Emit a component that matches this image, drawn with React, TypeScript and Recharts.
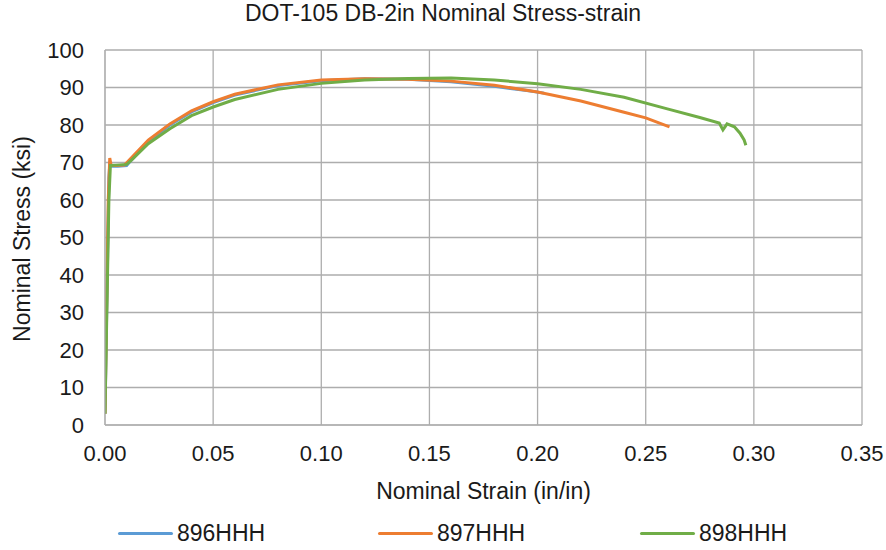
import React from 'react';
import { LineChart, Line, XAxis, YAxis, CartesianGrid } from 'recharts';

// Specimen 896HHH
const strain896 = [0, 0.0018, 0.0022, 0.003, 0.006, 0.01, 0.012, 0.02, 0.03, 0.04, 0.05, 0.06, 0.08, 0.1, 0.12, 0.14, 0.16, 0.18, 0.195, 0.203];
const stress896 = [3, 66, 69.5, 69, 69, 69.2, 70.5, 75.5, 80, 83.5, 86, 88, 90.5, 91.8, 92.3, 92.2, 91.5, 90.3, 89.2, 88.5];

// Specimen 897HHH
const strain897 = [0, 0.0015, 0.0022, 0.0028, 0.005, 0.009, 0.011, 0.02, 0.03, 0.04, 0.05, 0.06, 0.08, 0.1, 0.12, 0.14, 0.16, 0.18, 0.2, 0.22, 0.24, 0.25, 0.261];
const stress897 = [3, 60, 71.2, 69.3, 69.2, 69.3, 70.5, 76, 80.3, 83.8, 86.2, 88.2, 90.7, 92, 92.3, 92.2, 91.7, 90.6, 88.8, 86.4, 83.4, 81.9, 79.5];

// Specimen 898HHH
const strain898 = [0, 0.0018, 0.0025, 0.005, 0.01, 0.012, 0.02, 0.03, 0.04, 0.05, 0.06, 0.08, 0.1, 0.12, 0.14, 0.16, 0.18, 0.2, 0.22, 0.24, 0.26, 0.275, 0.284, 0.2857, 0.2876, 0.291, 0.2936, 0.2955, 0.2963];
const stress898 = [3, 60, 69.2, 69.3, 69.5, 70.5, 75, 79, 82.5, 84.8, 86.8, 89.5, 91.1, 92, 92.4, 92.5, 92, 91, 89.5, 87.4, 84.3, 82, 80.5, 78.7, 80.3, 79.5, 77.8, 76, 74.6];

const xTicks = [0, 0.05, 0.1, 0.15, 0.2, 0.25, 0.3, 0.35];
const yTicks = [0, 10, 20, 30, 40, 50, 60, 70, 80, 90, 100];

const series = [
  { name: '896HHH', color: '#5B9BD5', strain: strain896, stress: stress896 },
  { name: '897HHH', color: '#ED7D31', strain: strain897, stress: stress897 },
  { name: '898HHH', color: '#70AD47', strain: strain898, stress: stress898 },
];

const toPoints = (xs: number[], ys: number[]) => xs.map((x, i) => ({ strain: x, stress: ys[i] }));

const FONT = '"Liberation Sans", Arial, sans-serif';
const GRID = '#adadad';
const TEXT = '#1a1a1a';

const legendPos = [118, 378, 640];

export default function App() {
  return (
    <div style={{ position: 'absolute', left: 0, top: 0, width: 886, height: 550, background: '#fff', fontFamily: FONT }}>
      <div style={{ position: 'absolute', top: 0, left: 0, width: 886, textAlign: 'center', fontSize: 23, color: TEXT }}>
        DOT-105 DB-2in Nominal Stress-strain
      </div>
      <LineChart width={886} height={550} margin={{ top: 50, right: 24, left: 0, bottom: 0 }}>
        <CartesianGrid stroke={GRID} strokeWidth={1.3} />
        <XAxis
          type="number"
          dataKey="strain"
          domain={[0, 0.35]}
          ticks={xTicks}
          tickFormatter={(v: number) => v.toFixed(2)}
          height={125}
          tickSize={0}
          tickMargin={20}
          stroke={GRID}
          tick={{ fill: TEXT, fontSize: 22, fontFamily: FONT }}
          allowDataOverflow
          label={{ value: 'Nominal Strain (in/in)', position: 'insideTop', offset: 58, fill: TEXT, fontSize: 23, fontFamily: FONT }}
        />
        <YAxis
          type="number"
          domain={[0, 100]}
          ticks={yTicks}
          width={105}
          tickSize={0}
          tickMargin={21}
          stroke={GRID}
          tick={{ fill: TEXT, fontSize: 22, fontFamily: FONT }}
          label={{
            content: () => (
              <text x={22} y={239} transform="rotate(-90 22 239)" textAnchor="middle" dominantBaseline="central" fill={TEXT} fontSize={23} fontFamily={FONT}>
                Nominal Stress (ksi)
              </text>
            ),
          }}
        />
        {series.map((s) => (
          <Line
            key={s.name}
            name={s.name}
            data={toPoints(s.strain, s.stress)}
            dataKey="stress"
            type="linear"
            stroke={s.color}
            strokeWidth={3}
            dot={false}
            isAnimationActive={false}
          />
        ))}
      </LineChart>
      {series.map((s, i) => (
        <div key={s.name} style={{ position: 'absolute', left: legendPos[i], top: 520, display: 'flex', alignItems: 'center', fontSize: 23, color: TEXT }}>
          <span style={{ width: 55, height: 3.5, background: s.color, marginRight: 4, borderRadius: 2 }} />
          <span>{s.name}</span>
        </div>
      ))}
    </div>
  );
}
